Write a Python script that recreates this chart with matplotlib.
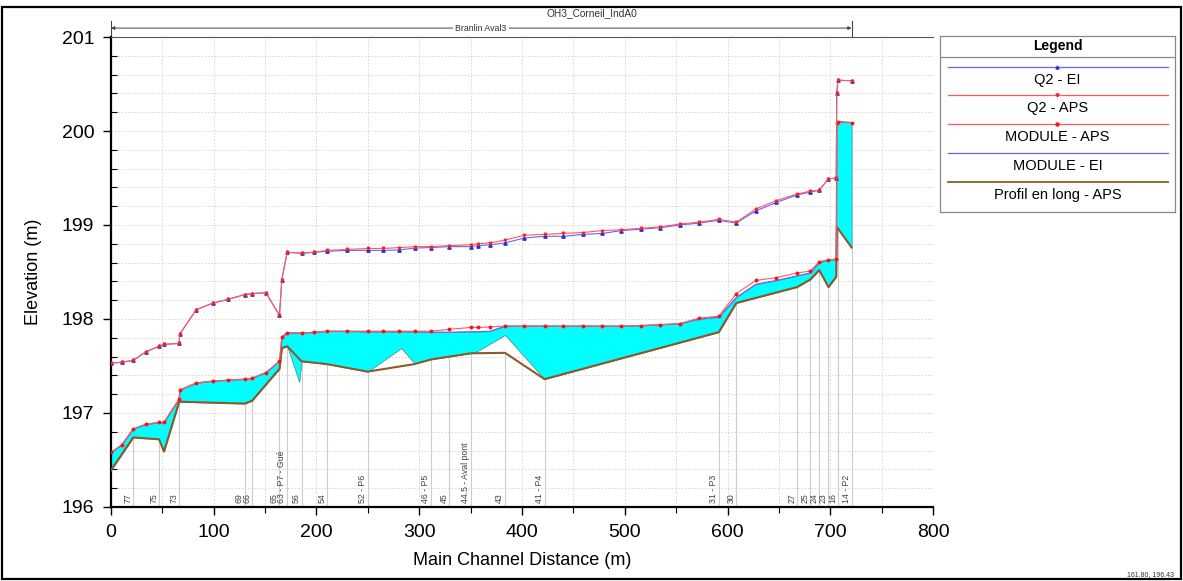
import numpy as np
import matplotlib
matplotlib.use("Agg")
import matplotlib.pyplot as plt
from matplotlib.patches import Rectangle

plt.rcParams['font.family'] = ['Liberation Sans', 'DejaVu Sans']

# stations of the computed profiles (m)
stations = [0, 10.4, 21.7, 33.8, 46.8, 51.6, 66.4, 67.0, 83.1, 99.4,
            114.3, 130.2, 137.3, 150.7, 164.0, 166.3, 171.5, 185.5, 197.8, 210.3,
            229.6, 249.8, 265.0, 280.6, 296.2, 311.5, 329.3, 350.0, 356.9, 369.0,
            383.5, 401.8, 421.9, 439.8, 459.2, 477.8, 496.6, 515.4, 534.0, 553.4,
            572.3, 591.5, 608.5, 627.5, 647.6, 667.8, 680.5, 689.2, 698.2, 705.8,
            706.3, 707.5, 720.8]

q2_aps = [197.53, 197.54, 197.56, 197.65, 197.71, 197.73, 197.74, 197.84, 198.10, 198.17,
          198.21, 198.26, 198.27, 198.28, 198.04, 198.42, 198.71, 198.70, 198.71, 198.73,
          198.74, 198.75, 198.75, 198.76, 198.77, 198.77, 198.78, 198.79, 198.80, 198.81,
          198.84, 198.89, 198.90, 198.91, 198.92, 198.94, 198.95, 198.965, 198.98, 199.01,
          199.03, 199.06, 199.03, 199.17, 199.26, 199.33, 199.36, 199.37, 199.49, 199.50,
          200.40, 200.54, 200.535]

q2_ei = [197.53, 197.54, 197.56, 197.65, 197.71, 197.73, 197.74, 197.84, 198.10, 198.17,
         198.21, 198.26, 198.27, 198.28, 198.04, 198.42, 198.71, 198.70, 198.71, 198.72,
         198.73, 198.73, 198.73, 198.735, 198.755, 198.76, 198.77, 198.77, 198.78, 198.79,
         198.81, 198.86, 198.88, 198.88, 198.90, 198.91, 198.94, 198.955, 198.97, 199.00,
         199.02, 199.05, 199.02, 199.15, 199.24, 199.32, 199.35, 199.37, 199.49, 199.50,
         200.40, 200.54, 200.535]

mod_aps = [196.58, 196.66, 196.83, 196.88, 196.90, 196.90, 197.15, 197.245, 197.32, 197.34,
           197.35, 197.36, 197.37, 197.43, 197.55, 197.81, 197.855, 197.85, 197.86, 197.87,
           197.87, 197.87, 197.87, 197.87, 197.87, 197.87, 197.89, 197.91, 197.91, 197.915,
           197.925, 197.925, 197.925, 197.925, 197.925, 197.925, 197.925, 197.93, 197.94, 197.95,
           198.01, 198.03, 198.27, 198.41, 198.44, 198.49, 198.51, 198.61, 198.63, 198.635,
           200.09, 200.10, 200.09]

mod_ei = [196.58, 196.66, 196.83, 196.88, 196.90, 196.90, 197.15, 197.245, 197.32, 197.34,
          197.35, 197.36, 197.37, 197.43, 197.55, 197.81, 197.855, 197.85, 197.86, 197.87,
          197.87, 197.865, 197.865, 197.865, 197.865, 197.86, 197.86, 197.865, 197.865, 197.87,
          197.925, 197.925, 197.925, 197.925, 197.925, 197.925, 197.925, 197.93, 197.94, 197.95,
          198.00, 198.02, 198.23, 198.37, 198.41, 198.46, 198.49, 198.60, 198.63, 198.635,
          200.09, 200.10, 200.09]

# bed profile APS (brown line)
bed_x = [0, 21.7, 46.8, 51.6, 66.4, 130.2, 137.3, 164.0, 166.3, 171.5,
         185.5, 210.3, 249.8, 295.3, 311.5, 329.3, 350.0, 383.5, 421.9, 591.5,
         608.5, 667.8, 680.5, 689.2, 698.2, 705.8, 706.3, 720.8]
bed_z = [196.39, 196.74, 196.72, 196.59, 197.12, 197.10, 197.13, 197.47, 197.69, 197.71,
         197.55, 197.52, 197.44, 197.52, 197.57, 197.60, 197.635, 197.64, 197.36, 197.86,
         198.17, 198.34, 198.42, 198.52, 198.34, 198.45, 198.98, 198.76]

# bed of the EI geometry (bottom of the water fill)
ei_bed_x = [0, 21.7, 46.8, 51.6, 66.4, 130.2, 137.3, 164.0, 166.3, 171.5,
            183.2, 185.5, 210.3, 249.8, 282.5, 295.3, 311.5, 329.3, 350.0, 356.9,
            383.5, 421.9, 591.5, 608.5, 667.8, 680.5, 689.2, 698.2, 705.8, 706.3,
            720.8]
ei_bed_z = [196.39, 196.74, 196.72, 196.59, 197.12, 197.10, 197.13, 197.47, 197.69, 197.71,
            197.33, 197.55, 197.52, 197.44, 197.69, 197.53, 197.57, 197.60, 197.635, 197.66,
            197.83, 197.36, 197.86, 198.17, 198.34, 198.42, 198.52, 198.34, 198.45, 198.98,
            198.76]

xs_names = ["77", "75", "73", "69", "66", "65", "63 - P7 - Gué", "56", "54", "52 - P6",
            "46 - P5", "45", "44.5 - Aval pont", "43", "41 - P4", "31 - P3", "30", "27",
            "25", "24", "23", "16", "14 - P2"]
xs_pos = [21.7, 46.8, 66.4, 130.2, 137.3, 164.0, 171.5, 185.5, 210.3, 249.8,
          311.5, 329.3, 350.0, 383.5, 421.9, 591.5, 608.5, 667.8,
          680.5, 689.2, 698.2, 707.5, 720.8]

legend_names = ["Q2 - EI", "Q2 - APS", "MODULE - APS", "MODULE - EI", "Profil en long - APS"]

BLUE = '#6464ff'
RED = '#ff5a5a'
BROWN = '#8b5a2b'

fig = plt.figure(figsize=(11.83, 5.81), dpi=100)
ax = fig.add_axes([0.0938, 0.1274, 0.6949, 0.8089])

# water fill between MODULE - EI and EI bed
grid = np.union1d(stations, ei_bed_x)
top = np.interp(grid, stations, mod_ei)
bot = np.interp(grid, ei_bed_x, ei_bed_z)
ax.fill_between(grid, bot, top, where=top >= bot, interpolate=True,
                facecolor='#00ffff', edgecolor='#4f7f7f', linewidth=0.5, zorder=2)

# cross section lines + labels
xs_top = np.interp(xs_pos, bed_x, bed_z)
ax.vlines(xs_pos, 196, xs_top, color='#cccccc', lw=0.8, zorder=1.5)
for name, p in zip(xs_names, xs_pos):
    ax.text(p - 0.8, 196.04, name, rotation=90, ha='right', va='bottom',
            fontsize=6.3, color='#444444', zorder=3)

ax.plot(bed_x, bed_z, color=BROWN, lw=1.5, zorder=4)
ax.plot(stations, mod_ei, color=BLUE, lw=0.8, zorder=5)
ax.plot(stations, mod_aps, color=RED, lw=0.8, marker='o', ms=1.8, mfc='#ff1010', mec='#ff1010', zorder=6)
ax.plot(stations, q2_ei, color=BLUE, lw=0.8, marker='^', ms=2.4, mfc='#3030d0', mec='#3030d0', zorder=5)
ax.plot(stations, q2_aps, color=RED, lw=0.8, marker='v', ms=1.8, mfc='#ff2020', mec='#ff2020', zorder=6)

ax.set_xlim(0, 800)
ax.set_ylim(196, 201)
ax.set_xticks(np.arange(0, 801, 100))
ax.set_xticks(np.arange(0, 801, 50), minor=True)
ax.set_yticks(np.arange(196, 201.1, 1))
ax.set_yticks(np.arange(196, 201.01, 0.2), minor=True)
ax.grid(which='both', ls=(0, (2, 2)), color='#d2d2d2', lw=0.6, zorder=0)
ax.set_axisbelow(True)
ax.tick_params(axis='both', which='major', labelsize=14, length=6, width=1, pad=6)
ax.tick_params(axis='y', which='minor', direction='in', length=4, width=0.8)
ax.tick_params(axis='x', which='minor', direction='out', length=4, width=0.8)
for s in ['left', 'bottom']:
    ax.spines[s].set_linewidth(1.6)
ax.spines['top'].set_linewidth(0.8)
ax.spines['top'].set_color('#555555')
ax.spines['right'].set_visible(False)
ax.set_xlabel('Main Channel Distance (m)', fontsize=13, labelpad=8)
ax.set_ylabel('Elevation (m)', fontsize=13, labelpad=14)

# reach bar above the plot
tr = ax.get_xaxis_transform()
reach_y = 1.019
ax.annotate('', xy=(0, reach_y), xytext=(720.8, reach_y), xycoords=tr, textcoords=tr,
            arrowprops=dict(arrowstyle='<|-|>', color='#444444', lw=0.7,
                            mutation_scale=5, shrinkA=0, shrinkB=0))
for xe in (0, 720.8):
    ax.plot([xe, xe], [1.0, 1.035], transform=tr, color='#444444', lw=0.8, clip_on=False)
ax.text(360, reach_y, 'Branlin Aval3', transform=tr, ha='center', va='center', fontsize=6.3,
        color='#333333', bbox=dict(facecolor='white', edgecolor='none', pad=1.5))
fig.text(0.5, 1 - 13 / 581, 'OH3_Corneil_IndA0', ha='center', va='center', fontsize=7.3,
         color='#333333')
fig.text(0.992, 1 - 575 / 581, '161.80, 196.43', ha='right', va='center', fontsize=5,
         color='#333333')

# outer frame
fig.patches.append(Rectangle((0.002, 0.004), 0.996, 0.984, transform=fig.transFigure,
                             fill=False, edgecolor='black', lw=1.6))

# legend box
lax = fig.add_axes([0.7946, 0.635, 0.1986, 0.303])
lax.set_xlim(0, 1)
lax.set_ylim(0, 1)
lax.set_xticks([])
lax.set_yticks([])
for s in lax.spines.values():
    s.set_color('#888888')
    s.set_linewidth(0.9)
lax.text(0.5, 0.943, 'Legend', ha='center', va='center', fontsize=10, fontweight='bold')
lax.axhline(0.881, color='#888888', lw=0.9)
styles = [(BLUE, '^', '#3030d0'), (RED, 'v', '#ff2020'), (RED, 'o', '#ff1010'),
          (BLUE, None, None), (BROWN, None, None)]
line_y = [0.824, 0.665, 0.5, 0.335, 0.17]
text_y = [0.75, 0.591, 0.426, 0.261, 0.097]
for name, (c, m, mc), ly, ty in zip(legend_names, styles, line_y, text_y):
    lw = 1.3 if c == BROWN else 0.9
    lax.plot([0.034, 0.97], [ly, ly], color=c, lw=lw)
    if m:
        lax.plot([0.5], [ly], marker=m, ms=2.2, color=mc, ls='none')
    lax.text(0.5, ty, name, ha='center', va='center', fontsize=10.5)

fig.savefig('out.png', dpi=100)
